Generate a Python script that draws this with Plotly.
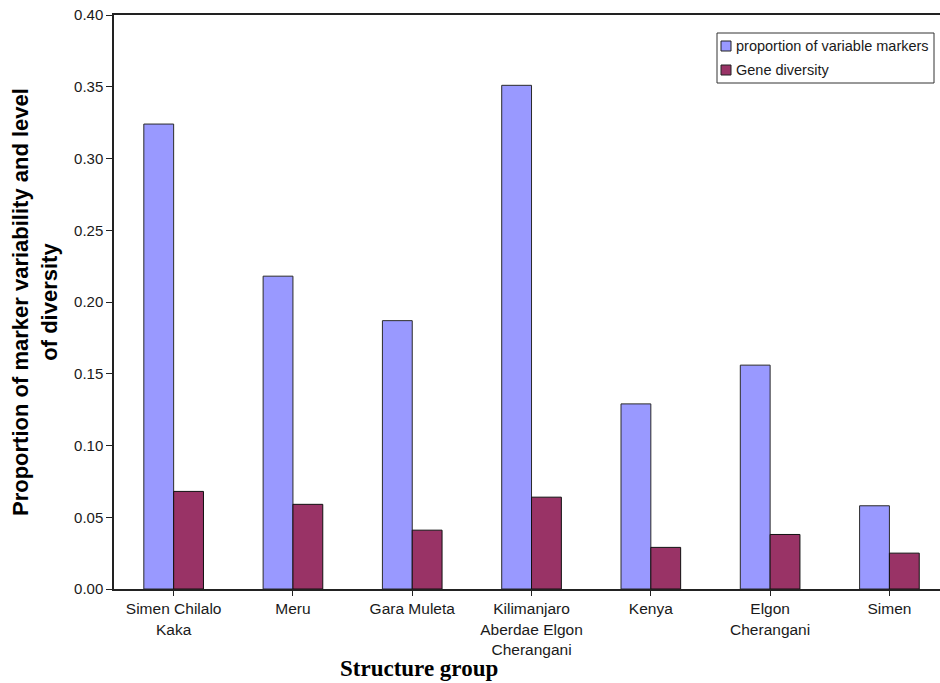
import plotly.graph_objects as go

# Structure groups and their measured values
groups = [
    "Simen Chilalo<br>Kaka",
    "Meru",
    "Gara Muleta",
    "Kilimanjaro<br>Aberdae Elgon<br>Cherangani",
    "Kenya",
    "Elgon<br>Cherangani",
    "Simen",
]
variable_markers = [0.324, 0.218, 0.187, 0.351, 0.129, 0.156, 0.058]
gene_diversity = [0.068, 0.059, 0.041, 0.064, 0.029, 0.038, 0.025]
y_ticks = [0.00, 0.05, 0.10, 0.15, 0.20, 0.25, 0.30, 0.35, 0.40]

series_names = ["proportion of variable markers", "Gene diversity"]
series_colors = ["#9999FF", "#993366"]

W, H = 940, 683
ML, MR, MT, MB = 114, 0, 15, 94
PW, PH = W - ML - MR, H - MT - MB


def px_x(px):
    """Pixel column -> paper x."""
    return (px - ML) / PW


def px_y(py):
    """Pixel row -> paper y."""
    return (H - MB - py) / PH


positions = list(range(len(groups)))

fig = go.Figure()
fig.add_trace(go.Bar(
    x=positions, y=variable_markers, name=series_names[0],
    marker=dict(color=series_colors[0], line=dict(color="#2a2a2a", width=1)),
))
fig.add_trace(go.Bar(
    x=positions, y=gene_diversity, name=series_names[1],
    marker=dict(color=series_colors[1], line=dict(color="#111111", width=1)),
))

fig.update_layout(
    width=W, height=H,
    margin=dict(l=ML, r=MR, t=MT, b=MB),
    paper_bgcolor="white", plot_bgcolor="white",
    barmode="group", bargap=0.5, bargroupgap=0,
    font=dict(family="Liberation Sans, Arial, sans-serif", size=15, color="#1a1a1a"),
    showlegend=False,
)

fig.update_xaxes(
    range=[-0.5, 6.424],
    tickvals=positions, ticktext=groups,
    tickson="boundaries", ticks="outside", ticklen=5, tickcolor="#222222",
    showline=True, linecolor="#222222", linewidth=1.5, mirror=True,
    showgrid=False, zeroline=False,
    tickfont=dict(size=15.5, color="#1a1a1a"),
)
fig.update_yaxes(
    range=[0, 0.40],
    tickvals=y_ticks, ticktext=[f"{v:.2f}" for v in y_ticks],
    ticks="outside", ticklen=6, tickcolor="#222222",
    showline=True, linecolor="#222222", linewidth=1.5, mirror=False,
    showgrid=False, zeroline=False,
    tickfont=dict(size=15, color="#1a1a1a"),
)

# Legend box drawn by hand so the swatches sit close to the text
fig.add_shape(
    type="rect", xref="paper", yref="paper",
    x0=px_x(717), x1=px_x(934), y0=px_y(83), y1=px_y(33),
    line=dict(color="#333333", width=1), fillcolor="white", layer="above",
)
for i, (name, color) in enumerate(zip(series_names, series_colors)):
    cy = 46 + 24 * i
    fig.add_shape(
        type="rect", xref="paper", yref="paper",
        x0=px_x(721), x1=px_x(731), y0=px_y(cy + 5), y1=px_y(cy - 5),
        line=dict(color="#222222", width=1), fillcolor=color, layer="above",
    )
    fig.add_annotation(
        text=name, xref="paper", yref="paper",
        x=px_x(734), y=px_y(cy), xanchor="left", yanchor="middle",
        showarrow=False,
        font=dict(family="Liberation Sans, Arial, sans-serif", size=14.5, color="#1a1a1a"),
    )

fig.add_annotation(
    text="<b>Proportion of marker variability and level<br>of diversity</b>",
    xref="paper", yref="paper", x=px_x(35), y=0.5,
    xanchor="center", yanchor="middle", textangle=-90, showarrow=False,
    font=dict(family="Liberation Sans, Arial, sans-serif", size=22, color="black"),
)
fig.add_annotation(
    text="<b>Structure group</b>",
    xref="paper", yref="paper", x=px_x(419), y=px_y(668),
    xanchor="center", yanchor="middle", showarrow=False,
    font=dict(family="Liberation Serif, Times New Roman, serif", size=23, color="black"),
)

fig.write_html("out.html")
